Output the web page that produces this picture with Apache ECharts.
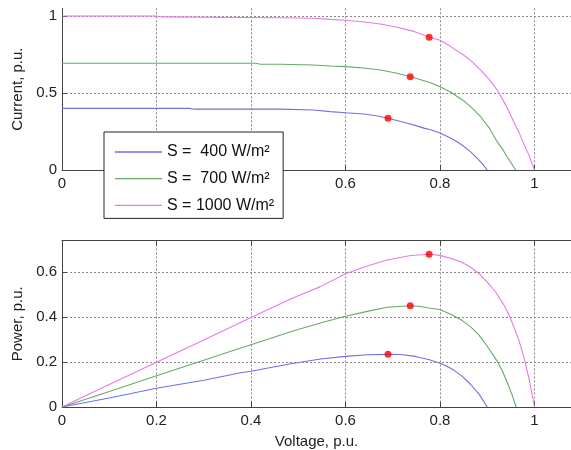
<!DOCTYPE html>
<html>
<head>
<meta charset="utf-8">
<script src="https://cdn.jsdelivr.net/npm/echarts@6/dist/echarts.min.js"></script>
<style>
html,body{margin:0;padding:0;background:#fff;}
#chart{width:571px;height:450px;}
</style>
</head>
<body>
<div id="chart"></div>
<script>
// ---- Data ----
const seriesNames = ['S =  400 W/m\u00B2', 'S =  700 W/m\u00B2', 'S = 1000 W/m\u00B2'];
const xTicks = [0, 0.2, 0.4, 0.6, 0.8, 1];

// Current (I-V) curves
const vI400 = [0, 0.1, 0.2, 0.27, 0.28, 0.4, 0.462, 0.532, 0.568, 0.6, 0.639, 0.665, 0.69, 0.711, 0.731, 0.749, 0.766, 0.78, 0.8, 0.822, 0.837, 0.85, 0.865, 0.879, 0.89, 0.9];
const iI400 = [0.40, 0.40, 0.40, 0.40, 0.395, 0.395, 0.395, 0.39, 0.379, 0.372, 0.364, 0.352, 0.336, 0.32, 0.303, 0.288, 0.272, 0.261, 0.24, 0.208, 0.182, 0.154, 0.118, 0.076, 0.04, 0];
const vI700 = [0, 0.2, 0.41, 0.42, 0.462, 0.532, 0.568, 0.6, 0.639, 0.674, 0.709, 0.738, 0.766, 0.78, 0.8, 0.822, 0.85, 0.868, 0.886, 0.904, 0.921, 0.932, 0.942, 0.951, 0.96];
const iI700 = [0.693, 0.693, 0.693, 0.687, 0.687, 0.682, 0.675, 0.671, 0.662, 0.649, 0.628, 0.606, 0.58, 0.566, 0.541, 0.506, 0.45, 0.402, 0.346, 0.274, 0.184, 0.137, 0.086, 0.044, 0];
const vI1000 = [0, 0.2, 0.21, 0.462, 0.532, 0.568, 0.6, 0.639, 0.674, 0.709, 0.745, 0.778, 0.8, 0.822, 0.85, 0.868, 0.886, 0.904, 0.921, 0.939, 0.956, 0.967, 0.977, 0.989, 1.0];
const iI1000 = [1.0, 1.0, 0.994, 0.989, 0.985, 0.978, 0.972, 0.961, 0.948, 0.927, 0.90, 0.862, 0.842, 0.803, 0.747, 0.702, 0.649, 0.588, 0.519, 0.423, 0.314, 0.246, 0.173, 0.09, 0];

// Power (P-V) curves
const vP400 = [0, 0.1, 0.2, 0.3, 0.378, 0.4, 0.484, 0.505, 0.547, 0.6, 0.646, 0.69, 0.716, 0.745, 0.759, 0.776, 0.8, 0.815, 0.829, 0.847, 0.865, 0.883, 0.9];
const pP400 = [0, 0.04, 0.083, 0.119, 0.152, 0.159, 0.192, 0.199, 0.213, 0.225, 0.232, 0.234, 0.233, 0.226, 0.219, 0.211, 0.194, 0.181, 0.164, 0.136, 0.10, 0.056, 0];
const vP700 = [0, 0.1, 0.2, 0.3, 0.378, 0.4, 0.484, 0.505, 0.547, 0.6, 0.646, 0.688, 0.738, 0.759, 0.776, 0.8, 0.829, 0.847, 0.865, 0.883, 0.9, 0.921, 0.932, 0.942, 0.952, 0.961];
const pP700 = [0, 0.069, 0.139, 0.208, 0.262, 0.277, 0.334, 0.348, 0.373, 0.403, 0.425, 0.443, 0.45, 0.447, 0.44, 0.433, 0.406, 0.384, 0.356, 0.318, 0.27, 0.204, 0.16, 0.111, 0.057, 0];
const vP1000 = [0, 0.1, 0.2, 0.3, 0.4, 0.484, 0.505, 0.547, 0.6, 0.646, 0.688, 0.738, 0.778, 0.8, 0.829, 0.847, 0.865, 0.883, 0.9, 0.918, 0.935, 0.946, 0.956, 0.967, 0.977, 0.989, 1.0];
const pP1000 = [0, 0.1, 0.199, 0.298, 0.398, 0.48, 0.499, 0.535, 0.592, 0.627, 0.653, 0.673, 0.679, 0.674, 0.657, 0.642, 0.621, 0.592, 0.555, 0.51, 0.454, 0.41, 0.358, 0.296, 0.226, 0.12, 0];

// Maximum power points
const mppV = [0.69, 0.737, 0.777];
const mppI = [0.336, 0.605, 0.862];
const mppP = [0.234, 0.45, 0.679];

// ---- Styling ----
const colors = ['#7070e6', '#66aa66', '#e878e8'];
const FONT = 'Liberation Sans, Arial, Helvetica, sans-serif';
const axisColor = '#444';
const gridColor = '#8a8a8a';
const X_MAX = 509 / 472.5;

function pairs(xs, ys) { return xs.map((x, i) => [x, ys[i]]); }

const chart = echarts.init(document.getElementById('chart'), null, {renderer: 'canvas'});

const labelFmt = v => String(+v.toFixed(2));

function xAxisCfg(gridIndex, withName) {
  return {
    type: 'value', gridIndex: gridIndex, min: 0, max: X_MAX, interval: 0.2,
    name: withName ? 'Voltage, p.u.' : '',
    nameLocation: 'middle', nameGap: 27,
    nameTextStyle: {fontFamily: FONT, fontSize: 15, color: '#222'},
    axisLine: {show: true, onZero: false, lineStyle: {color: axisColor, width: 1}},
    axisTick: {show: true, inside: true, length: 5, lineStyle: {color: axisColor}},
    axisLabel: {fontFamily: FONT, fontSize: 15, color: '#222', margin: 6, showMaxLabel: false, formatter: labelFmt},
    splitLine: {show: true, showMaxLine: false, lineStyle: {color: gridColor, type: [2, 2], width: 1}}
  };
}
function yAxisCfg(gridIndex, name, max, interval) {
  return {
    type: 'value', gridIndex: gridIndex, min: 0, max: max, interval: interval,
    name: name, nameLocation: 'middle', nameGap: 36,
    nameTextStyle: {fontFamily: FONT, fontSize: 15, color: '#222'},
    axisLine: {show: true, onZero: false, lineStyle: {color: axisColor, width: 1}},
    axisTick: {show: true, inside: true, length: 5, lineStyle: {color: axisColor}},
    axisLabel: {fontFamily: FONT, fontSize: 15, color: '#222', margin: 5, showMaxLabel: false, formatter: labelFmt},
    splitLine: {show: true, showMaxLine: false, lineStyle: {color: gridColor, type: [2, 2], width: 1}}
  };
}

function lineSeries(name, data, xi, yi, color) {
  return {
    type: 'line', name: name, xAxisIndex: xi, yAxisIndex: yi, data: data,
    symbol: 'none', smooth: false,
    lineStyle: {color: color, width: 1.1}, itemStyle: {color: color},
    silent: true, animation: false, z: 3
  };
}

const option = {
  animation: false,
  backgroundColor: '#fff',
  grid: [
    {left: 62, top: 8.3, right: 0, height: 161.7},
    {left: 62, top: 240.5, right: 0, height: 167.2}
  ],
  xAxis: [
    xAxisCfg(0, false),
    xAxisCfg(1, true),
    {type: 'value', gridIndex: 1, position: 'top', min: 0, max: X_MAX, interval: 0.2,
      axisLine: {show: true, onZero: false, lineStyle: {color: axisColor, width: 1}},
      axisTick: {show: true, inside: true, length: 5, lineStyle: {color: axisColor}},
      axisLabel: {show: false}, splitLine: {show: false}}
  ],
  yAxis: [yAxisCfg(0, 'Current, p.u.', 1.05, 0.5), yAxisCfg(1, 'Power, p.u.', 0.74, 0.2)],
  legend: {
    data: seriesNames.map(n => ({name: n, icon: 'rect'})),
    orient: 'vertical', left: 104, top: 132,
    padding: [12, 9, 5, 11], itemWidth: 47, itemHeight: 1.3, itemGap: 10.7,
    backgroundColor: '#fff', borderColor: '#222', borderWidth: 1, borderRadius: 0,
    textStyle: {fontFamily: FONT, fontSize: 16, color: '#111'},
    selectedMode: false, z: 10
  },
  series: [
    lineSeries(seriesNames[0], pairs(vI400, iI400), 0, 0, colors[0]),
    lineSeries(seriesNames[1], pairs(vI700, iI700), 0, 0, colors[1]),
    lineSeries(seriesNames[2], pairs(vI1000, iI1000), 0, 0, colors[2]),
    lineSeries(seriesNames[0], pairs(vP400, pP400), 1, 1, colors[0]),
    lineSeries(seriesNames[1], pairs(vP700, pP700), 1, 1, colors[1]),
    lineSeries(seriesNames[2], pairs(vP1000, pP1000), 1, 1, colors[2]),
    {type: 'scatter', name: 'MPP-I', xAxisIndex: 0, yAxisIndex: 0, data: pairs(mppV, mppI),
      symbol: 'circle', symbolSize: 7, itemStyle: {color: '#ff0000'}, z: 5, silent: true},
    {type: 'scatter', name: 'MPP-P', xAxisIndex: 1, yAxisIndex: 1, data: pairs(mppV, mppP),
      symbol: 'circle', symbolSize: 7, itemStyle: {color: '#ff0000'}, z: 5, silent: true}
  ]
};
chart.setOption(option);
</script>
</body>
</html>
